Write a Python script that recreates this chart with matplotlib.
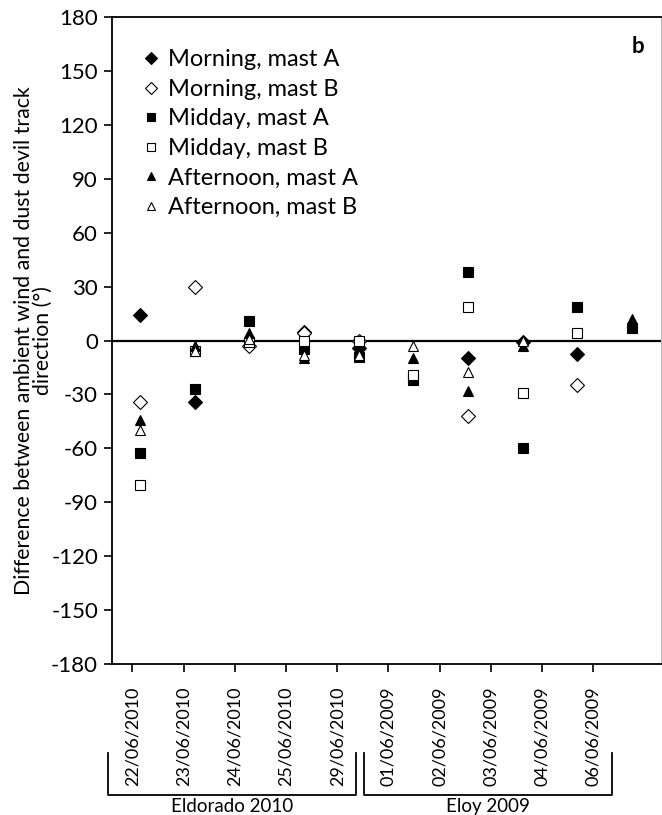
import numpy as np
import matplotlib
matplotlib.use("Agg")
import matplotlib.pyplot as plt
from matplotlib.lines import Line2D
from matplotlib import transforms

plt.rcParams['font.family'] = ['Lato', 'DejaVu Sans']
plt.rcParams['axes.unicode_minus'] = False

nan = np.nan

# Dates of each dust devil survey day (two field campaigns)
dates = ['22/06/2010', '23/06/2010', '24/06/2010', '25/06/2010', '29/06/2010',
         '01/06/2009', '02/06/2009', '03/06/2009', '04/06/2009', '06/06/2009']
sites = ['Eldorado 2010', 'Eloy 2009']
site_days = [5, 5]

# Direction differences (degrees) for each time of day and mast
morning_a = [14, -34, nan, 5, -4, nan, -10, -1, -7.5, nan]
morning_b = [-34, 30, -3, 4, 0, nan, -42, nan, -25, nan]
midday_a = [-62.5, -27, 11, -5, -9, -22, 38, -60, 18.5, 7]
midday_b = [-80.5, -6, -1, 0, 0, -19, 18.5, -29, 4, nan]
afternoon_a = [-44, -3, 4, -10, -6, -10, -28, -3, nan, 12]
afternoon_b = [-50, -6, 1, -8, -8, -3, -17.5, 0, nan, nan]

series = [
    ('Morning, mast A', morning_a, 'D', 'black'),
    ('Morning, mast B', morning_b, 'D', 'white'),
    ('Midday, mast A', midday_a, 's', 'black'),
    ('Midday, mast B', midday_b, 's', 'white'),
    ('Afternoon, mast A', afternoon_a, '^', 'black'),
    ('Afternoon, mast B', afternoon_b, '^', 'white'),
]

fig = plt.figure(figsize=(6.62, 8.15), dpi=100)
ax = fig.add_axes([0.1692, 0.1853, 0.8293, 0.7938])

x = np.arange(len(dates))
for label, vals, mk, fc in series:
    ax.plot(x, vals, linestyle='none', marker=mk, markersize=7.5,
            markerfacecolor=fc, markeredgecolor='black', markeredgewidth=0.8,
            label=label)

ax.axhline(0, color='black', linewidth=1.6, zorder=1)

ax.set_xlim(-0.51, 9.53)
ax.set_ylim(-180, 180)
ax.set_yticks(np.arange(-180, 181, 30))
ax.tick_params(axis='y', direction='out', length=6, width=1.2, labelsize=16, pad=4)
ax.set_xticks([])

for side in ['left', 'top', 'bottom']:
    ax.spines[side].set_linewidth(1.3)
    ax.spines[side].set_color('black')
ax.spines['right'].set_color('#bbbbbb')
ax.spines['right'].set_linewidth(0.8)

ax.set_ylabel('Difference between ambient wind and dust devil track\ndirection (°)',
              fontsize=15.3, linespacing=0.95)
ax.yaxis.set_label_coords(-0.108, 0.5)

# Date labels along the bottom axis
ax2 = ax.twiny()
ax2.set_xlim(-0.396, 10.32)
ax2.xaxis.set_ticks_position('bottom')
ax2.xaxis.set_label_position('bottom')
ax2.set_xticks(np.arange(len(dates)))
ax2.set_xticklabels(dates, rotation=90, fontsize=13)
ax2.tick_params(axis='x', direction='out', length=6, width=1.2, pad=10)
for side in ax2.spines:
    ax2.spines[side].set_visible(False)

# Brackets grouping the days by field site
trans = transforms.blended_transform_factory(ax2.transData, ax2.transAxes)
start = 0
for name, n in zip(sites, site_days):
    x0 = start - 0.47
    x1 = start + n - 1 + 0.36
    y_top = -0.137
    y_bot = -0.2025
    ax2.add_line(Line2D([x0, x0, x1, x1], [y_top, y_bot, y_bot, y_top],
                        transform=trans, color='black', linewidth=1.3,
                        clip_on=False))
    ax2.text((x0 + x1) / 2, -0.207, name, transform=trans, ha='center',
             va='top', fontsize=13.5)
    start += n

leg = ax.legend(loc='upper left', bbox_to_anchor=(0.059, 0.950), frameon=False,
                fontsize=17, handlelength=0.6, handletextpad=0.4,
                labelspacing=0.36, markerscale=0.75, borderaxespad=0,
                borderpad=0)

ax.text(0.97, 0.955, 'b', transform=ax.transAxes, ha='right', va='center',
        fontsize=16, fontweight='bold')

fig.savefig('out.png', dpi=100)
